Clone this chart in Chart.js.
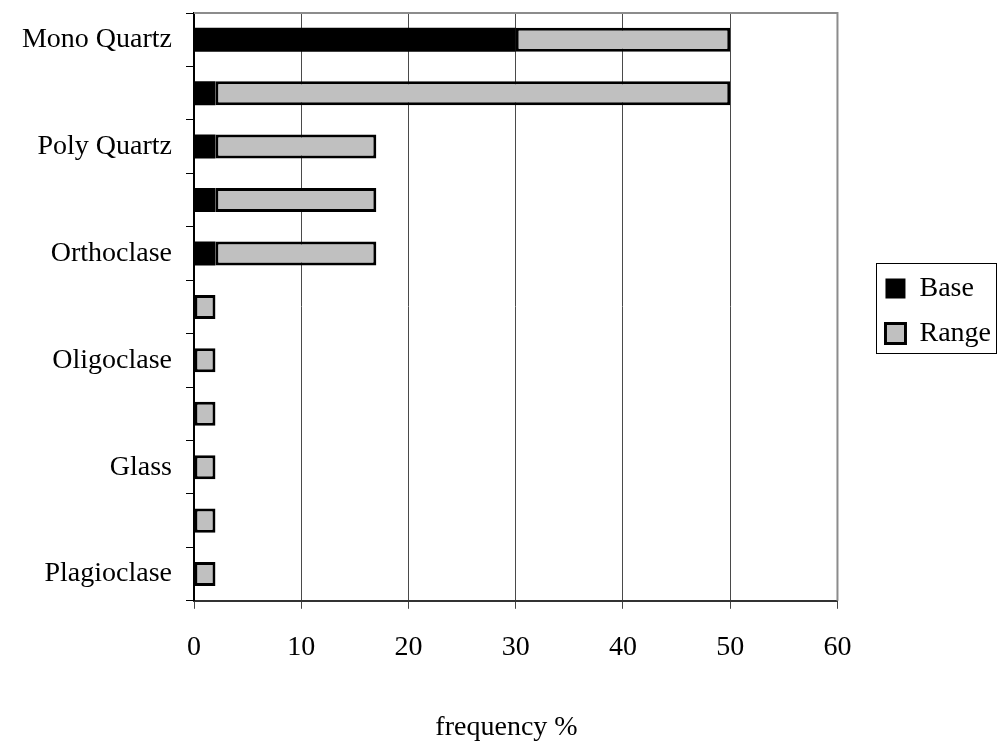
<!DOCTYPE html>
<html>
<head>
<meta charset="utf-8">
<script src="https://cdn.jsdelivr.net/npm/chart.js@4"></script>
<style>
  html, body { margin: 0; padding: 0; background: #fff; }
  #wrap { width: 1001px; height: 744px; }
</style>
</head>
<body>
<div id="wrap"><canvas id="chart"></canvas></div>
<script>
// категории (подписи через одну, как в оригинале)
const categories = ["Mono Quartz", "", "Poly Quartz", "", "Orthoclase", "", "Oligoclase", "", "Glass", "", "Plagioclase"];
const baseValues = [30, 2, 2, 2, 2, null, null, null, null, null, null];
const rangeValues = [20, 48, 15, 15, 15, 2, 2, 2, 2, 2, 2];
const xTicks = [0, 10, 20, 30, 40, 50, 60];

const FONT = "'Liberation Serif', 'DejaVu Serif', serif";
const FONT_SIZE = 28;

// рамка области построения и рамка вокруг легенды
const framePlugin = {
  id: "frame",
  beforeDatasetsDraw(chart) {
    const { ctx, chartArea } = chart;
    ctx.save();
    ctx.strokeStyle = "#8c8c8c";
    ctx.lineWidth = 2;
    ctx.beginPath();
    ctx.moveTo(chartArea.left, chartArea.top);
    ctx.lineTo(chartArea.right, chartArea.top);
    ctx.lineTo(chartArea.right, chartArea.bottom);
    ctx.stroke();
    ctx.restore();
  },
  afterDraw(chart) {
    const lg = chart.legend;
    const ctx = chart.ctx;
    const h = lg.legendHitBoxes;
    if (!h.length) return;
    ctx.save();
    ctx.strokeStyle = "#000";
    ctx.lineWidth = 1;
    const left = Math.round(h[0].left) - 9;
    const top = Math.round(h[0].top) - 11;
    const bottom = Math.round(h[h.length - 1].top + h[h.length - 1].height) + 6;
    ctx.strokeRect(left + 0.5, top + 0.5, 120, bottom - top);
    ctx.restore();
  }
};

new Chart(document.getElementById("chart"), {
  type: "bar",
  data: {
    labels: categories,
    datasets: [
      {
        label: "Base",
        data: baseValues,
        backgroundColor: "#000000",
        borderColor: "#000000",
        borderWidth: 0,
      },
      {
        label: "Range",
        data: rangeValues,
        backgroundColor: "#c0c0c0",
        borderColor: "#000000",
        borderWidth: 3,
        borderSkipped: false,
      },
    ],
  },
  options: {
    indexAxis: "y",
    responsive: true,
    maintainAspectRatio: false,
    animation: false,
    categoryPercentage: 1,
    barPercentage: 0.45,
    layout: { padding: { top: 13, right: 0, left: 12, bottom: 0 } },
    scales: {
      x: {
        stacked: true,
        min: 0,
        max: 60,
        afterBuildTicks(axis) {
          axis.ticks = xTicks.map((v) => ({ value: v }));
        },
        grid: {
          color: "#4a4a4a",
          lineWidth: 1,
          tickLength: 8,
          tickColor: "#444",
        },
        border: { color: "#333", width: 2 },
        ticks: {
          color: "#000",
          padding: 22,
          font: { family: FONT, size: FONT_SIZE },
        },
      },
      y: {
        stacked: true,
        afterFit(scale) {
          scale.width = 182;
          scale.paddingTop = 0;
          scale.paddingBottom = 0;
        },
        grid: {
          offset: true,
          drawOnChartArea: false,
          tickLength: 8,
          tickColor: "#000",
        },
        border: { color: "#000", width: 2 },
        ticks: {
          color: "#000",
          padding: 14,
          autoSkip: false,
          font: { family: FONT, size: FONT_SIZE },
        },
      },
      // пустая ось справа: только зазор между графиком и легендой
      gap: {
        type: "linear",
        axis: "y",
        position: "right",
        display: true,
        grid: { display: false },
        border: { display: false },
        ticks: { display: false },
        afterFit(scale) {
          scale.width = 31;
        },
      },
    },
    plugins: {
      legend: {
        position: "right",
        fullSize: false,
        title: {
          display: true,
          text: " ",
          padding: 0,
          font: { size: 8, lineHeight: 1 },
        },
        labels: {
          color: "#000",
          boxWidth: 20,
          boxHeight: 20,
          padding: 17,
          font: { family: FONT, size: FONT_SIZE },
        },
      },
      title: {
        display: true,
        position: "bottom",
        text: "frequency %",
        color: "#000",
        padding: { top: 24, bottom: 0 },
        font: { family: FONT, size: FONT_SIZE, weight: "normal" },
      },
      tooltip: { enabled: false },
    },
  },
  plugins: [framePlugin],
});
</script>
</body>
</html>
